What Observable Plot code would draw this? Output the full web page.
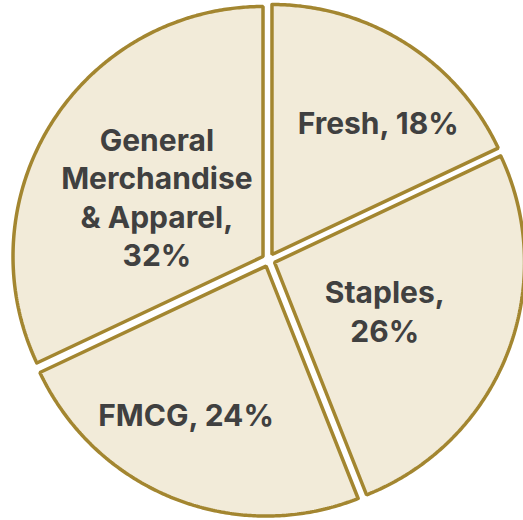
<!DOCTYPE html>
<html><head><meta charset="utf-8">
<script src="https://cdn.jsdelivr.net/npm/d3@7"></script>
<script src="https://cdn.jsdelivr.net/npm/@observablehq/plot@0.6"></script>
<style>body{margin:0;background:#fff;}</style>
</head><body><div id="chart"></div>
<script>
const categories = ["Fresh", "Staples", "FMCG", "General Merchandise & Apparel"];
const shares = [18, 26, 24, 32];
const labelTexts = ["Fresh, 18%", "Staples,\n26%", "FMCG, 24%", "General\nMerchandise\n& Apparel,\n32%"];

// layout (not data)
const W = 523, H = 520, cxPx = 268, cyPx = 259.5, Rpx = 250, explode = 0.026;
const labelRadius = [0.70, 0.51, 0.705, 0.51];
const labelTurn = [6.4, 2.6, 6.3, -3.5];

const total = d3.sum(shares);
let acc = 0;
const slices = categories.map((c, i) => {
  const a0 = acc / total * 2 * Math.PI; acc += shares[i];
  const a1 = acc / total * 2 * Math.PI;
  return {c, a0, a1, mid: (a0 + a1) / 2, i};
});
const pts = [];
for (const s of slices) {
  const ox = explode * Math.sin(s.mid), oy = explode * Math.cos(s.mid);
  const n = Math.max(2, Math.ceil((s.a1 - s.a0) / (Math.PI / 360)));
  const arc = [];
  for (let k = 0; k <= n; k++) {
    const a = s.a0 + (s.a1 - s.a0) * k / n;
    arc.push({c: s.c, x: ox + Math.sin(a), y: oy + Math.cos(a)});
  }
  pts.push(...arc);
  pts.push({c: s.c, x: ox, y: oy});
  pts.push(arc[0], arc[1]);
}
const labels = slices.map((s, i) => {
  const a = s.mid + labelTurn[i] * Math.PI / 180;
  return {x: labelRadius[i] * Math.sin(a), y: labelRadius[i] * Math.cos(a), t: labelTexts[i]};
});

const chart = Plot.plot({
  width: W, height: H, margin: 0,
  x: {domain: [-cxPx / Rpx, (W - cxPx) / Rpx], range: [0, W], axis: null},
  y: {domain: [-(H - cyPx) / Rpx, cyPx / Rpx], range: [H, 0], axis: null},
  style: {background: "#fff"},
  marks: [
    Plot.line(pts, {x: "x", y: "y", z: "c", fill: "#F2EBD9", stroke: "#A38630", strokeWidth: 3.5, strokeLinejoin: "miter", curve: "linear"}),
    Plot.text(labels, {x: "x", y: "y", text: "t", dy: -2, fontSize: 30, fontWeight: 700, fill: "#404040", lineHeight: 1.28, fontFamily: "Inter"})
  ]
});
document.getElementById("chart").appendChild(chart);
</script>
</body></html>
